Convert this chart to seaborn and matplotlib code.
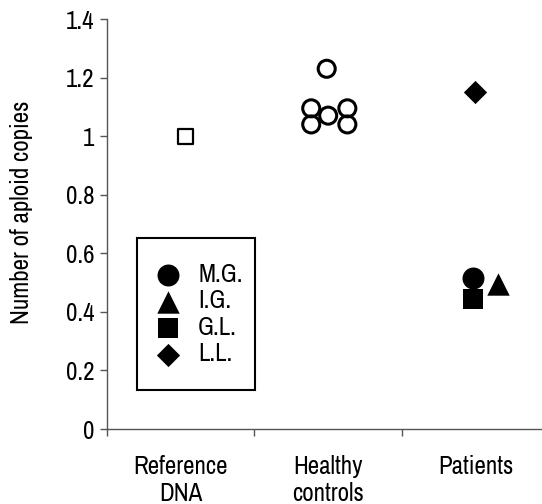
import matplotlib
matplotlib.use('Agg')
import matplotlib.pyplot as plt
from matplotlib import font_manager
from matplotlib.patches import Rectangle
import seaborn as sns

# categories on the x axis
categories = ['Reference\nDNA', 'Healthy\ncontrols', 'Patients']

# reference DNA (calibrator)
ref_x = [0.03]
ref_y = [1.0]

# healthy controls, x = group index + jitter
healthy_x = [0.99, 0.885, 0.885, 1.0, 1.13, 1.13]
healthy_y = [1.23, 1.095, 1.04, 1.07, 1.095, 1.04]

# patients
patients = ['M.G.', 'I.G.', 'G.L.', 'L.L.']
patient_x = [1.985, 2.15, 1.985, 1.995]
patient_y = [0.515, 0.495, 0.445, 1.15]
patient_markers = ['o', '^', 's', 'D']
patient_sizes = [250, 260, 210, 140]

sns.set_style('white')
installed = set(f.name for f in font_manager.fontManager.ttflist)
narrow = [n for n in ['Liberation Sans Narrow', 'Archivo Narrow', 'Roboto Condensed',
                      'Pragati Narrow', 'PT Sans Narrow', 'Open Sans Condensed']
          if n in installed]
plt.rcParams['font.family'] = narrow[:1] + ['DejaVu Sans']
plt.rcParams['text.color'] = 'black'
plt.rcParams['xtick.color'] = 'black'
plt.rcParams['ytick.color'] = 'black'
plt.rcParams['axes.labelcolor'] = 'black'

fig = plt.figure(figsize=(5.42, 5.04), dpi=100)
ax = fig.add_axes([0.1974, 0.1488, 0.8026, 0.8135])

sns.scatterplot(x=ref_x, y=ref_y, marker='s', s=120, ax=ax,
                facecolor='none', edgecolor='black', linewidth=1.6)
sns.scatterplot(x=healthy_x, y=healthy_y, marker='o', s=150, ax=ax,
                facecolor='none', edgecolor='black', linewidth=2.2)
for name, x, y, m, s in zip(patients, patient_x, patient_y, patient_markers, patient_sizes):
    sns.scatterplot(x=[x], y=[y], marker=m, s=s, color='black',
                    edgecolor='black', linewidth=0, ax=ax, label=name)

ax.set_xlim(-0.5, 2.45)
ax.set_ylim(0, 1.4)
ax.set_yticks([0, 0.2, 0.4, 0.6, 0.8, 1.0, 1.2, 1.4])
ax.set_yticklabels(['0', '0.2', '0.4', '0.6', '0.8', '1', '1.2', '1.4'])
ax.set_xticks([-0.5, 0.5, 1.5])
ax.set_xticklabels([])
ax.set_xticks([0, 1, 2], minor=True)
ax.set_xticklabels(categories, minor=True)
ax.tick_params(axis='x', which='minor', bottom=True, length=0, pad=19, labelsize=18)
ax.tick_params(axis='x', which='major', bottom=True, direction='out', length=5, width=1,
               color='#555555')
ax.tick_params(axis='y', left=True, direction='out', length=5, width=1, color='#555555',
               pad=4, labelsize=18)
ax.set_ylabel('Number of aploid copies', fontsize=18)
ax.yaxis.set_label_coords(-0.170, 0.529)

for side in ['top', 'right']:
    ax.spines[side].set_visible(False)
for side in ['left', 'bottom']:
    ax.spines[side].set_color('#555555')
    ax.spines[side].set_linewidth(1.0)

leg = ax.legend(loc='center left', bbox_to_anchor=(0.1034, 0.28), frameon=False,
                borderpad=0, borderaxespad=0, handlelength=1.25, handletextpad=0.6,
                labelspacing=0.14, fontsize=18)
ax.add_patch(Rectangle((0.069, 0.095), 0.271, 0.371, transform=ax.transAxes,
                       fill=False, edgecolor='black', linewidth=1.5))

fig.savefig('out.png', dpi=100)
